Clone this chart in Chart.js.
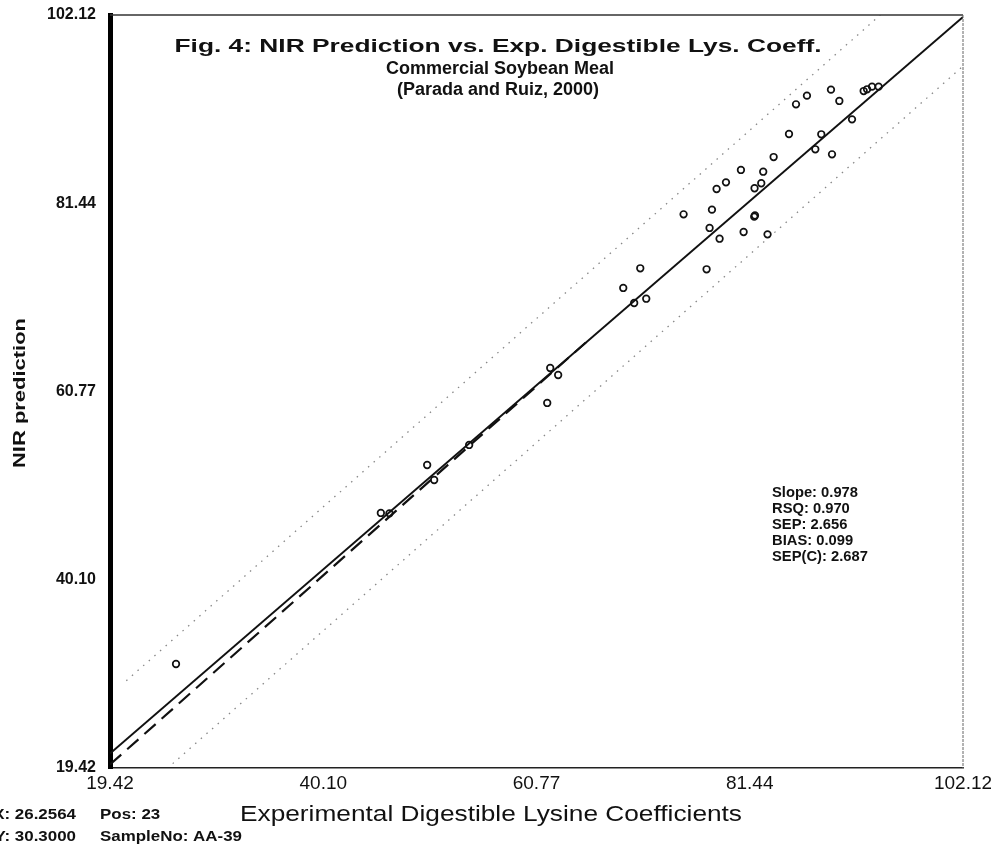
<!DOCTYPE html>
<html>
<head>
<meta charset="utf-8">
<script src="https://cdn.jsdelivr.net/npm/chart.js@4.4.1/dist/chart.umd.min.js"></script>
<style>
  html, body { margin: 0; padding: 0; background: #fff; }
  #wrap { width: 991px; height: 845px; position: relative; }
</style>
</head>
<body>
<div id="wrap"><canvas id="c" width="991" height="845"></canvas></div>
<script>
// axis ticks (same on both axes)
const axisTicks = [19.42, 40.10, 60.77, 81.44, 102.12];

// samples: experimental digestible lysine coeff. vs NIR prediction
const expLys = [25.82, 45.68, 46.51, 50.17, 50.85, 54.24, 61.81, 62.10, 62.87,
  69.18, 70.24, 71.41, 70.83, 75.03, 77.78, 77.55, 78.52, 77.26, 80.85, 81.88,
  81.95, 83.17, 78.23, 79.14, 80.59, 81.91, 82.56, 82.75, 83.76, 85.25, 85.93,
  86.99, 89.32, 90.13, 88.38, 87.80, 89.42, 91.36, 92.49, 92.82, 93.30, 93.94];
const nirPred = [30.84, 47.43, 47.39, 52.70, 51.05, 54.90, 59.51, 63.35, 62.58,
  72.14, 70.49, 70.96, 74.30, 80.23, 80.74, 78.73, 77.55, 74.19, 78.29, 79.97,
  80.10, 78.03, 83.01, 83.74, 85.10, 83.09, 83.64, 84.91, 86.52, 89.05, 92.31,
  93.26, 93.92, 92.68, 89.02, 87.37, 86.82, 90.66, 93.77, 93.96, 94.25, 94.25];

// regression line, dashed reference line and the two limit lines (end points)
const fitX = [19.42, 102.12];
const fitY = [21.00, 101.90];
const dashX = [19.42, 66.00];
const dashY = [19.80, 66.60];
const upperX = [21.00, 94.10];
const upperY = [29.00, 102.12];
const lowerX = [25.50, 102.12];
const lowerY = [19.90, 96.50];

const titleLines = ['Fig. 4: NIR Prediction vs. Exp. Digestible Lys. Coeff.',
  'Commercial Soybean Meal', '(Parada and Ruiz, 2000)'];
const statLines = ['Slope: 0.978', 'RSQ: 0.970', 'SEP: 2.656', 'BIAS: 0.099', 'SEP(C): 2.687'];
const cursorLeft = ['X: 26.2564', 'Y: 30.3000'];
const cursorRight = ['Pos: 23', 'SampleNo: AA-39'];

const pts = (xs, ys) => xs.map((x, i) => ({ x, y: ys[i] }));
const FONT = "'Liberation Sans', Arial, sans-serif";

// draws text, optionally stretched to a given width (the scan's lettering is wide)
function wideText(ctx, s, x, y, font, width, align) {
  ctx.save();
  ctx.font = font;
  const sx = width ? width / ctx.measureText(s).width : 1;
  ctx.translate(x, y);
  ctx.scale(sx, 1);
  ctx.textAlign = align || 'left';
  ctx.textBaseline = 'middle';
  ctx.fillText(s, 0, 0);
  ctx.restore();
}

const extras = {
  id: 'extras',
  afterDraw(chart) {
    const { ctx, chartArea: a } = chart;
    ctx.save();
    // frame: top + right
    ctx.strokeStyle = '#333';
    ctx.lineWidth = 1.5;
    ctx.beginPath();
    ctx.moveTo(a.left, a.top);
    ctx.lineTo(a.right, a.top);
    ctx.stroke();
    ctx.strokeStyle = '#666';
    ctx.lineWidth = 1;
    ctx.setLineDash([3, 1]);
    ctx.beginPath();
    ctx.moveTo(a.right, a.top);
    ctx.lineTo(a.right, a.bottom);
    ctx.stroke();
    ctx.setLineDash([]);

    ctx.fillStyle = '#111';
    wideText(ctx, titleLines[0], 498, 47, 'bold 19px ' + FONT, 647, 'center');
    wideText(ctx, titleLines[1], 500, 69, 'bold 18px ' + FONT, 0, 'center');
    wideText(ctx, titleLines[2], 498, 90, 'bold 18px ' + FONT, 0, 'center');

    ctx.font = 'bold 15px ' + FONT;
    const sxs = 86 / ctx.measureText(statLines[0]).width;
    statLines.forEach((s, i) => {
      ctx.save();
      ctx.translate(772, 493 + i * 16);
      ctx.scale(sxs, 1);
      ctx.textBaseline = 'middle';
      ctx.fillText(s, 0, 0);
      ctx.restore();
    });

    wideText(ctx, 'Experimental Digestible Lysine Coefficients', 491, 815, '22px ' + FONT, 502, 'center');

    ctx.save();
    ctx.translate(20, 393);
    ctx.rotate(-Math.PI / 2);
    wideText(ctx, 'NIR prediction', 0, 0, 'bold 17px ' + FONT, 150, 'center');
    ctx.restore();

    ctx.font = 'bold 15px ' + FONT;
    const sxc = 142 / ctx.measureText(cursorRight[1]).width;
    [815, 837].forEach((y, i) => {
      ctx.save();
      ctx.translate(76, y);
      ctx.scale(sxc, 1);
      ctx.textAlign = 'right';
      ctx.textBaseline = 'middle';
      ctx.fillText(cursorLeft[i], 0, 0);
      ctx.restore();
      ctx.save();
      ctx.translate(100, y);
      ctx.scale(sxc, 1);
      ctx.textBaseline = 'middle';
      ctx.fillText(cursorRight[i], 0, 0);
      ctx.restore();
    });
    ctx.restore();
  },
};

const setTicks = (scale) => {
  scale.ticks = axisTicks.map((v) => ({ value: v }));
};

new Chart(document.getElementById('c'), {
  type: 'scatter',
  data: {
    datasets: [
      {
        label: 'Samples',
        data: pts(expLys, nirPred),
        pointStyle: 'circle',
        pointRadius: 3.3,
        pointBorderWidth: 1.7,
        borderColor: '#111',
        backgroundColor: 'rgba(255,255,255,0)',
        order: 1,
      },
      {
        label: 'Regression',
        data: pts(fitX, fitY),
        showLine: true,
        borderColor: '#111',
        borderWidth: 2,
        pointRadius: 0,
        order: 2,
      },
      {
        label: 'Reference',
        data: pts(dashX, dashY),
        showLine: true,
        borderColor: '#111',
        borderWidth: 2.2,
        borderDash: [15, 8],
        pointRadius: 0,
        order: 3,
      },
      {
        label: 'Upper limit',
        data: pts(upperX, upperY),
        showLine: true,
        borderColor: '#888',
        borderWidth: 1.3,
        borderDash: [1.5, 6],
        pointRadius: 0,
        order: 4,
      },
      {
        label: 'Lower limit',
        data: pts(lowerX, lowerY),
        showLine: true,
        borderColor: '#888',
        borderWidth: 1.3,
        borderDash: [1.5, 6],
        pointRadius: 0,
        order: 5,
      },
    ],
  },
  options: {
    responsive: false,
    animation: false,
    devicePixelRatio: 1,
    layout: { padding: { top: 15, right: 28, left: 0, bottom: 0 } },
    plugins: { legend: { display: false }, tooltip: { enabled: false } },
    scales: {
      x: {
        type: 'linear',
        min: 19.42,
        max: 102.12,
        afterBuildTicks: setTicks,
        afterFit: (s) => { s.height = 77; s.paddingLeft = 0; s.paddingRight = 0; },
        grid: { display: false, drawTicks: false },
        border: { display: true, color: '#222', width: 1.5 },
        ticks: {
          color: '#111',
          font: { family: FONT, size: 19 },
          padding: 4,
          maxRotation: 0,
          autoSkip: false,
          callback: (v) => Number(v).toFixed(2),
        },
      },
      y: {
        type: 'linear',
        min: 19.42,
        max: 102.12,
        afterBuildTicks: setTicks,
        afterFit: (s) => { s.width = 110; s.paddingTop = 0; s.paddingBottom = 0; },
        grid: { display: false, drawTicks: false },
        border: { display: true, color: '#000', width: 5 },
        ticks: {
          color: '#111',
          font: { family: FONT, size: 16, weight: 'bold' },
          padding: 14,
          autoSkip: false,
          callback: (v) => Number(v).toFixed(2),
        },
      },
    },
  },
  plugins: [extras],
});
</script>
</body>
</html>
